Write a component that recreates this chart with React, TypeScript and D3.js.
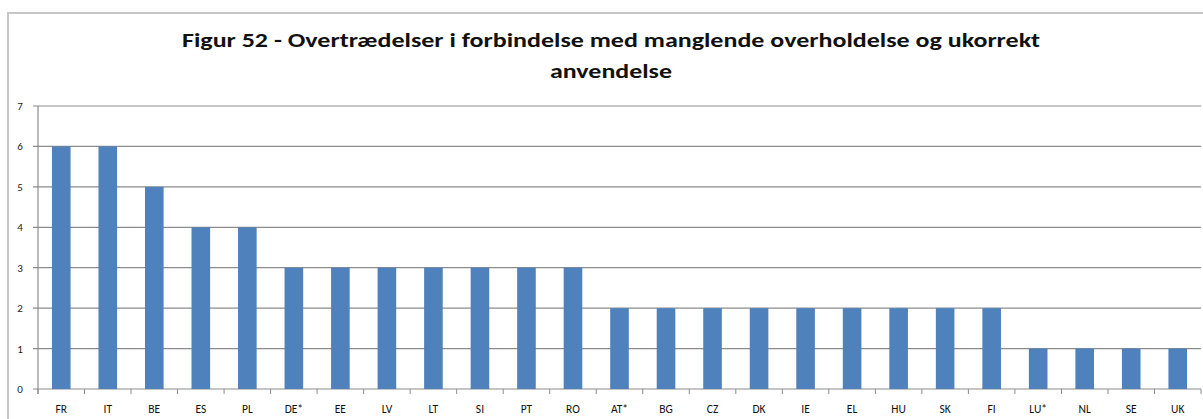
import React from "react";
import * as d3 from "d3";

const categories = ["FR","IT","BE","ES","PL","DE*","EE","LV","LT","SI","PT","RO","AT*","BG","CZ","DK","IE","EL","HU","SK","FI","LU*","NL","SE","UK"];
const values = [6,6,5,4,4,3,3,3,3,3,3,3,2,2,2,2,2,2,2,2,2,1,1,1,1];
const yTicks = [0,1,2,3,4,5,6,7];
const titleLines = ["Figur 52 - Overtrædelser i forbindelse med manglende overholdelse og ukorrekt", "anvendelse"];

export default function App() {
  const W = 1203, H = 419;
  const left = 38, right = 1201, top = 106, bottom = 389;
  const x = d3.scaleBand<string>().domain(categories).range([left, right]).paddingInner(0.6).paddingOuter(0.3);
  const xb = d3.scaleBand<string>().domain(categories).range([left, right]);
  const y = d3.scaleLinear().domain([0, 7]).range([bottom, top]);
  const font = "Carlito, 'Open Sans', 'Liberation Sans', sans-serif";
  const titleLens = [858, 122];
  const titleY = [47, 78];
  return (
    <svg width={W} height={H} style={{ position: "absolute", left: 0, top: 0, background: "#fff" }}>
      <rect x={8} y={13} width={W} height={H} fill="#fff" stroke="#c6c6c6" strokeWidth={2} />
      {titleLines.map((t, i) => (
        <text key={i} x={611} y={titleY[i]} textAnchor="middle" fontFamily={font} fontWeight="bold" fontSize={21} fill="#111"
          textLength={titleLens[i]} lengthAdjust="spacingAndGlyphs">{t}</text>
      ))}
      {yTicks.map(t => (
        <g key={t}>
          <line x1={left - 5} x2={right} y1={y(t)} y2={y(t)} stroke="#8c8c8c" strokeWidth={1.2} />
          <text x={20} y={y(t) + 4} textAnchor="middle" fontFamily={font} fontSize={11} fill="#222">{t}</text>
        </g>
      ))}
      <line x1={left} x2={left} y1={top} y2={bottom + 5} stroke="#8c8c8c" strokeWidth={1.2} />
      {categories.map(c => (
        <line key={"t" + c} x1={xb(c) as number} x2={xb(c) as number} y1={bottom} y2={bottom + 5} stroke="#8c8c8c" />
      ))}
      <line x1={right} x2={right} y1={bottom} y2={bottom + 5} stroke="#8c8c8c" />
      {categories.map((c, i) => (
        <rect key={c} x={x(c)} y={y(values[i])} width={x.bandwidth()} height={bottom - y(values[i])} fill="#4f81bd" />
      ))}
      {categories.map(c => (
        <text key={"l" + c} x={(xb(c) as number) + xb.bandwidth() / 2} y={413} textAnchor="middle" fontFamily={font} fontSize={11.5} fill="#111">{c}</text>
      ))}
    </svg>
  );
}
